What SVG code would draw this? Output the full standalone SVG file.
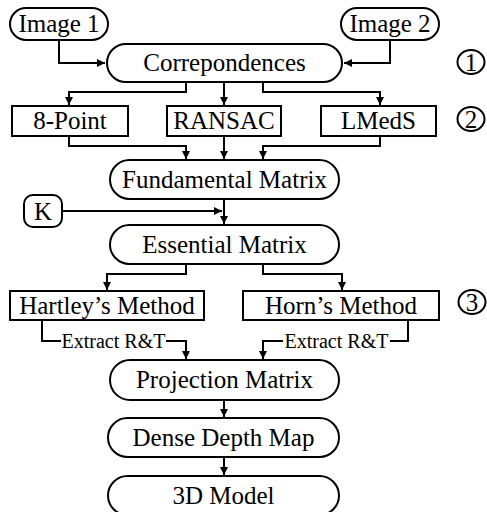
<svg xmlns="http://www.w3.org/2000/svg" width="487" height="512" viewBox="0 0 487 512">
<style>
.n{fill:#fff;stroke:#000;stroke-width:2}
text{font-family:'Liberation Serif','Tinos','Times New Roman','DejaVu Serif',serif;fill:#000;text-anchor:middle}
.t{font-size:25px}
.s{font-size:20px}
.c{fill:none;stroke:#000;stroke-width:2}
</style>
<defs>
<marker id="a" markerWidth="8" markerHeight="8" refX="8" refY="4" orient="auto" markerUnits="userSpaceOnUse">
<path d="M0,0 L8,4 L0,8 Z" fill="#000"/>
</marker>
</defs>
<rect width="487" height="512" fill="#fff"/>
<g id="connectors">
<path class="c" d="M59,40 V63 H105" marker-end="url(#a)"/>
<path class="c" d="M390,40 V63 H344" marker-end="url(#a)"/>
<path class="c" d="M186,82 V92 H69 V105" marker-end="url(#a)"/>
<path class="c" d="M224,82 V105" marker-end="url(#a)"/>
<path class="c" d="M263,82 V92 H380 V105" marker-end="url(#a)"/>
<path class="c" d="M69,136 V146 H186 V159" marker-end="url(#a)"/>
<path class="c" d="M224,136 V159" marker-end="url(#a)"/>
<path class="c" d="M380,136 V146 H263 V159" marker-end="url(#a)"/>
<path class="c" d="M62,211 H222" marker-end="url(#a)"/>
<path class="c" d="M224,199 V224" marker-end="url(#a)"/>
<path class="c" d="M186,264 V274 H107 V290" marker-end="url(#a)"/>
<path class="c" d="M263,264 V274 H342 V290" marker-end="url(#a)"/>
<path class="c" d="M42,320 V341 H61"/>
<path class="c" d="M166,341 H186 V359" marker-end="url(#a)"/>
<path class="c" d="M408,320 V341 H390"/>
<path class="c" d="M283,341 H263 V359" marker-end="url(#a)"/>
<path class="c" d="M224,400 V417" marker-end="url(#a)"/>
<path class="c" d="M224,457 V475" marker-end="url(#a)"/>
<text class="s" x="113.5" y="348" font-family="Liberation Serif, serif">Extract R&amp;T</text>
<text class="s" x="336.5" y="348" font-family="Liberation Serif, serif">Extract R&amp;T</text>
</g>
<g id="image1"><rect class="n" x="10" y="8" width="98" height="32" rx="16"/><text class="t" x="59" y="32">Image 1</text></g>
<g id="image2"><rect class="n" x="341" y="8" width="98" height="32" rx="16"/><text class="t" x="390" y="32">Image 2</text></g>
<g id="corr"><rect class="n" x="107" y="44" width="235" height="38" rx="19"/><text class="t" x="224.5" y="71">Correpondences</text></g>
<g id="n1"><ellipse class="n" cx="471" cy="62" rx="13.5" ry="12"/><text class="t" x="471" y="71">1</text></g>
<g id="p8"><rect class="n" x="12" y="106" width="116" height="30"/><text class="t" x="70" y="129">8-Point</text></g>
<g id="ransac"><rect class="n" x="167" y="106" width="114" height="30"/><text class="t" x="224" y="129">RANSAC</text></g>
<g id="lmeds"><rect class="n" x="321" y="106" width="115" height="30"/><text class="t" x="378.5" y="129">LMedS</text></g>
<g id="n2"><ellipse class="n" cx="471" cy="119" rx="13.5" ry="12"/><text class="t" x="471" y="128">2</text></g>
<g id="fund"><rect class="n" x="110" y="160" width="229" height="39" rx="19.5"/><text class="t" x="224.5" y="188">Fundamental Matrix</text></g>
<g id="k"><rect class="n" x="24" y="195" width="38" height="32" rx="9"/><text class="t" x="43" y="220">K</text></g>
<g id="ess"><rect class="n" x="110" y="225" width="229" height="39" rx="19.5"/><text class="t" x="224.5" y="253">Essential Matrix</text></g>
<g id="hartley"><rect class="n" x="10" y="291" width="194" height="29"/><text class="t" x="107" y="314">Hartley’s Method</text></g>
<g id="horn"><rect class="n" x="243" y="291" width="196" height="29"/><text class="t" x="341" y="314">Horn’s Method</text></g>
<g id="n3"><ellipse class="n" cx="472" cy="302" rx="13.5" ry="12"/><text class="t" x="472" y="311">3</text></g>
<g id="proj"><rect class="n" x="110" y="360" width="229" height="40" rx="20"/><text class="t" x="224.5" y="388">Projection Matrix</text></g>
<g id="dense"><rect class="n" x="108" y="418" width="231" height="39" rx="19.5"/><text class="t" x="223.5" y="446">Dense Depth Map</text></g>
<g id="model"><rect class="n" x="108" y="476" width="231" height="39" rx="19.5"/><text class="t" x="223.5" y="504">3D Model</text></g>
</svg>
